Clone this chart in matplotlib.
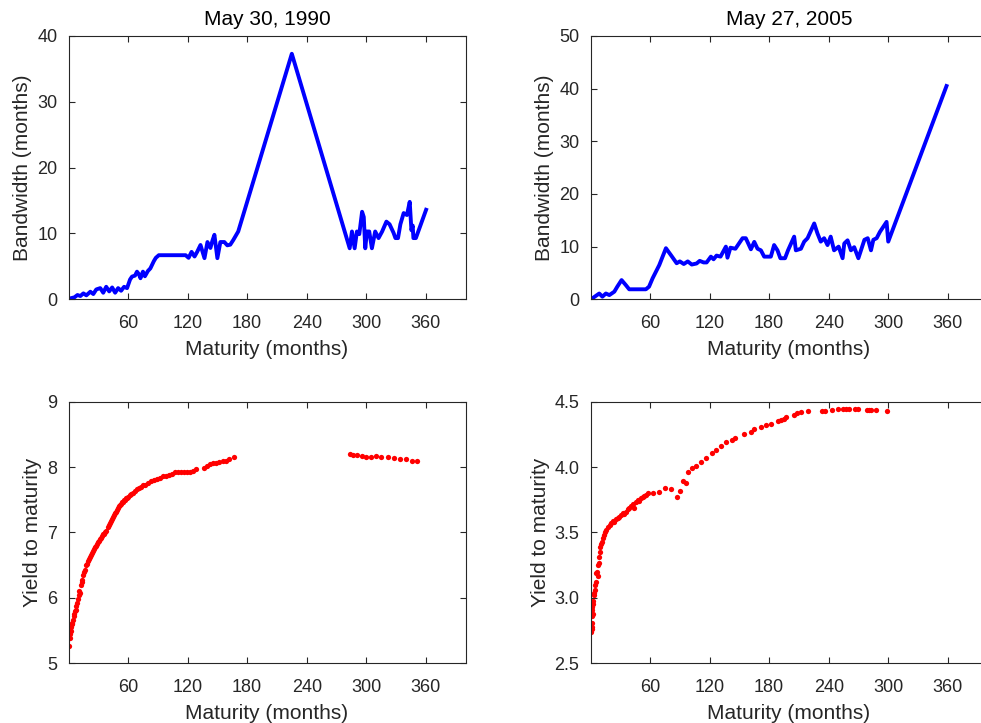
import matplotlib
matplotlib.use("Agg")
import matplotlib.pyplot as plt
from matplotlib.ticker import FormatStrFormatter

plt.rcParams['font.family'] = ['Liberation Sans', 'DejaVu Sans']

# ---------------- data ----------------
titles = ["May 30, 1990", "May 27, 2005"]
xticks = [60, 120, 180, 240, 300, 360]

# Bandwidth 1990 (maturity in months, bandwidth in months)
bw90_m = [2, 6, 9, 12, 15, 18, 22, 25, 28, 32, 35, 38, 41, 44, 47, 50, 53, 56, 59,
          62, 64, 67, 69, 71, 72.5, 75, 77, 80, 82.5, 86, 88, 91, 100, 110, 118,
          121, 124, 127, 129.6, 133, 137, 140, 143, 145, 147, 150, 153, 157, 160, 163,
          166, 171, 225, 283.3, 285.6, 288.3, 290.6, 293, 295.8, 297.5, 299, 300.7,
          303, 305.7, 309, 312.4, 316, 320.3, 323.5, 327.5, 329.4, 332, 334.4, 337.7,
          341, 343.8, 345.5, 346.8, 347.5, 350, 360.3]
bw90_v = [0.15, 0.3, 0.65, 0.5, 0.9, 0.6, 1.15, 0.8, 1.5, 1.7, 1.0, 1.9, 1.2, 1.8, 1.0,
          1.7, 1.3, 1.9, 1.7, 3.0, 3.45, 3.6, 4.2, 3.8, 3.2, 4.2, 3.5, 4.3, 4.7, 5.8, 6.3,
          6.7, 6.7, 6.7, 6.7, 6.3, 7.2, 6.5, 7.2, 8.25, 6.25, 8.7, 7.8, 8.9, 9.8, 6.25,
          8.7, 8.7, 8.2, 8.3, 9.0, 10.3, 37.3, 7.75, 10.3, 7.75, 10.3, 9.9, 13.3, 12.5,
          7.75, 10.3, 10.3, 7.75, 10.3, 9.3, 10.3, 11.8, 11.4, 10.1, 9.3, 9.3, 11.4,
          13.1, 12.8, 14.8, 10.5, 11.2, 9.3, 9.3, 13.6]

# Bandwidth 2005
bw05_m = [2, 8.8, 12, 15.5, 19, 24, 27, 31.3, 35.6, 39, 45, 50, 55.8, 59, 62.6, 69.3,
          76, 81, 86.8, 90, 94, 98, 102, 106.9, 110, 114, 117, 121.3, 124, 127, 131,
          136.4, 138, 141, 146, 153.2, 156.5, 161.6, 165, 168.3, 171.7, 175, 181.7, 185,
          188.4, 191.3, 196, 199, 205.2, 206.9, 212, 215.3, 218.7, 225.4, 228.7, 232,
          235.4, 238.8, 242, 245.4, 250, 254, 255.7, 259, 262.4, 265.7, 269.9, 276,
          279.3, 282.6, 285, 288.3, 291.6, 298.3, 300, 358.7]
bw05_v = [0.2, 1.1, 0.5, 1.1, 0.8, 1.45, 2.4, 3.65, 2.7, 1.9, 1.9, 1.9, 1.9, 2.4, 4.0,
          6.5, 9.7, 8.4, 6.85, 7.2, 6.7, 7.2, 6.6, 6.8, 7.3, 7.0, 7.0, 8.1, 7.6, 8.3,
          8.1, 10.0, 7.9, 9.8, 9.6, 11.6, 11.6, 9.5, 10.9, 9.6, 9.3, 8.1, 8.1, 10.3, 9.3,
          7.8, 7.8, 9.3, 11.9, 9.3, 9.6, 10.95, 11.6, 14.4, 12.5, 10.95, 11.6, 10.3, 11.9,
          9.3, 10.0, 7.8, 10.6, 11.2, 9.3, 9.9, 7.8, 11.3, 11.6, 9.3, 11.3, 11.6, 12.8,
          14.7, 10.95, 40.5]

# Yield to maturity 1990
y90_m = [1, 1.5, 2, 2.5, 3, 3.5, 4, 5, 5.5, 6, 7, 7.5, 8, 9, 10, 10.5, 11, 12, 13, 13.5,
         14, 15, 16, 17, 18, 19, 20, 21, 22, 23, 24, 25, 26, 27, 28, 29, 30, 31, 32, 33,
         34, 35, 36, 37, 38, 40, 41, 42, 43, 44, 45, 46, 47, 48, 49, 50, 51, 52, 53, 54,
         55, 56, 57, 58, 59, 60, 62, 63, 65, 67, 69, 71, 73, 75, 77, 80, 83, 86, 89, 92,
         95, 98, 101, 104, 107, 110, 113, 116, 119, 122, 125, 128, 137, 140, 143, 146,
         149, 152, 156, 159, 162, 167,
         284, 287, 291, 296, 300, 305, 310, 315, 322, 328, 334, 340, 346, 351]
y90_v = [5.27, 5.38, 5.45, 5.5, 5.55, 5.6, 5.62, 5.66, 5.72, 5.75, 5.8, 5.82, 5.88, 5.92,
         5.98, 6.05, 6.1, 6.08, 6.2, 6.25, 6.28, 6.35, 6.4, 6.43, 6.5, 6.52, 6.56, 6.6,
         6.62, 6.66, 6.68, 6.72, 6.75, 6.78, 6.8, 6.83, 6.85, 6.87, 6.9, 6.92, 6.94, 6.97,
         6.98, 7.0, 7.03, 7.08, 7.12, 7.14, 7.18, 7.2, 7.24, 7.27, 7.3, 7.32, 7.35, 7.38,
         7.4, 7.42, 7.44, 7.46, 7.47, 7.49, 7.5, 7.52, 7.53, 7.55, 7.57, 7.59, 7.61, 7.63,
         7.66, 7.68, 7.7, 7.72, 7.73, 7.75, 7.78, 7.8, 7.82, 7.84, 7.86, 7.87, 7.88, 7.9,
         7.93, 7.93, 7.93, 7.93, 7.92, 7.93, 7.94, 7.97, 7.99, 8.02, 8.04, 8.06, 8.07,
         8.08, 8.09, 8.1, 8.12, 8.16,
         8.2, 8.19, 8.18, 8.17, 8.16, 8.15, 8.17, 8.16, 8.15, 8.14, 8.13, 8.12, 8.1, 8.09]

# Yield to maturity 2005
y05_m = [1, 1.1, 1.3, 1.4, 1.5, 1.7, 2, 2.2, 2.5, 3, 3.4, 3.8, 4.3, 4.8, 5.3, 5.9, 6.6,
         7.2, 7.6, 8.1, 8.6, 9.3, 9.9, 10.8, 11.6, 12.4, 13.2, 14.5, 15.9, 17.5, 19.2,
         21, 22.6, 24, 25.5, 27.6, 29, 30.5, 32.6, 34, 35.5, 37.6, 39, 40.5, 42.7, 44,
         45.5, 47.7, 49, 50.5, 52.7, 54, 56, 57.5, 62.6, 69.3, 75, 81, 87, 90, 92.7, 96,
         98.4, 102, 106, 111, 116, 122, 126, 131, 137, 143, 146, 155, 161.5, 165, 171.6,
         176.7, 181.7, 188.5, 192, 195, 197, 205, 208.5, 212, 218.7,
         233.5, 236, 243, 249, 254.7, 257, 260.4, 266.4, 269.8, 279, 281, 282.6, 288, 299]
y05_v = [2.74, 2.78, 2.81, 2.86, 2.76, 2.93, 2.91, 2.95, 2.88, 2.98, 3.04, 3.02, 3.06,
         3.1, 3.12, 3.19, 3.2, 3.17, 3.25, 3.27, 3.31, 3.35, 3.39, 3.41, 3.43, 3.46,
         3.48, 3.5, 3.52, 3.54, 3.56, 3.57, 3.59, 3.58, 3.6, 3.61, 3.62, 3.63, 3.65, 3.64,
         3.66, 3.68, 3.69, 3.7, 3.72, 3.69, 3.73, 3.75, 3.74, 3.76, 3.77, 3.78, 3.79, 3.8,
         3.8, 3.81, 3.84, 3.83, 3.77, 3.82, 3.89, 3.88, 3.96, 3.99, 4.01, 4.04, 4.07,
         4.11, 4.13, 4.16, 4.19, 4.21, 4.22, 4.25, 4.27, 4.29, 4.31, 4.32, 4.33, 4.35,
         4.36, 4.37, 4.38, 4.4, 4.41, 4.42, 4.43,
         4.43, 4.43, 4.44, 4.445, 4.445, 4.445, 4.445, 4.445, 4.445, 4.44, 4.44, 4.44,
         4.44, 4.43]

# ---------------- figure ----------------
W, H = 981, 723
fig = plt.figure(figsize=(W / 100, H / 100), dpi=100)

def add_ax(left, top, width, height):
    return fig.add_axes([left / W, 1 - (top + height) / H, width / W, height / H])

axw = 397
ax_tl = add_ax(68.5, 36, axw, 263.3)
ax_tr = add_ax(590.5, 36, axw, 263.3)
ax_bl = add_ax(68.5, 401.7, axw, 261.6)
ax_br = add_ax(590.5, 401.7, axw, 261.6)

gray = (0.15, 0.15, 0.15)

def style(ax):
    ax.set_xlim(0, 400)
    ax.set_xticks(xticks)
    ax.tick_params(direction='in', length=4.5, width=0.8, colors=gray,
                   labelsize=13, top=True, right=True)
    ax.tick_params(axis='x', pad=11)
    ax.tick_params(axis='y', pad=8)
    for s in ax.spines.values():
        s.set_color(gray)
        s.set_linewidth(0.8)
    ax.set_xlabel("Maturity (months)", fontsize=15, color=gray, labelpad=6)

blue = (0, 0, 1)
red = (1, 0, 0)

ax_tl.plot(bw90_m, bw90_v, color=blue, lw=2.8)
ax_tl.set_ylim(0, 40)
ax_tl.set_yticks([0, 10, 20, 30, 40])
ax_tl.set_ylabel("Bandwidth (months)", fontsize=15, color=gray, labelpad=4)
ax_tl.set_title(titles[0], fontsize=15, color='black', pad=8)

ax_tr.plot(bw05_m, bw05_v, color=blue, lw=2.8)
ax_tr.set_ylim(0, 50)
ax_tr.set_yticks([0, 10, 20, 30, 40, 50])
ax_tr.set_ylabel("Bandwidth (months)", fontsize=15, color=gray, labelpad=4)
ax_tr.set_title(titles[1], fontsize=15, color='black', pad=8)

ax_bl.plot(y90_m, y90_v, 'o', color=red, ms=3.8, mec='none')
ax_bl.set_ylim(5, 9)
ax_bl.set_yticks([5, 6, 7, 8, 9])
ax_bl.set_ylabel("Yield to maturity", fontsize=15, color=gray, labelpad=4)

ax_br.plot(y05_m, y05_v, 'o', color=red, ms=3.8, mec='none')
ax_br.set_ylim(2.5, 4.5)
ax_br.set_yticks([2.5, 3.0, 3.5, 4.0, 4.5])
ax_br.yaxis.set_major_formatter(FormatStrFormatter('%.1f'))
ax_br.set_ylabel("Yield to maturity", fontsize=15, color=gray, labelpad=3)

for ax in (ax_tl, ax_tr, ax_bl, ax_br):
    style(ax)

fig.savefig("out.png", dpi=100)
